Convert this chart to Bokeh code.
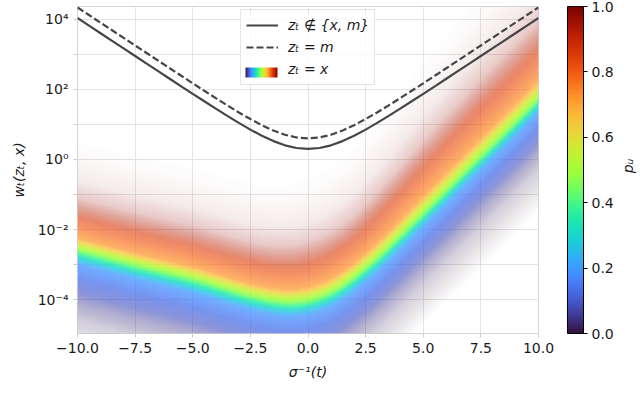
import numpy as np
from bokeh.plotting import figure
from bokeh.layouts import row
from bokeh.models import (Range1d, FixedTicker, CustomJSTickFormatter, ColorBar, BoxAnnotation,
                          LinearColorMapper, Legend, LegendItem, Label, PrintfTickFormatter)
from bokeh.palettes import Turbo256
from bokeh.embed import file_html
from bokeh.resources import INLINE

# ---------------- data ----------------
sigma = [-10, -9.5, -9, -8.5, -8, -7.5, -7, -6.5, -6, -5.5, -5, -4.5, -4, -3.5, -3, -2.5,
         -2, -1.5, -1, -0.5, 0, 0.5, 1, 1.5, 2, 2.5, 3, 3.5, 4, 4.5, 5, 5.5, 6, 6.5, 7,
         7.5, 8, 8.5, 9, 9.5, 10]
w_other = [11000, 6680, 4050, 2460, 1490, 905, 549, 334, 203, 123, 75.2, 46.0, 28.3, 17.6,
           11.1, 7.13, 4.76, 3.35, 2.54, 2.13, 2.0, 2.13, 2.54, 3.35, 4.76, 7.13, 11.1, 17.6,
           28.3, 46.0, 75.2, 123, 203, 334, 549, 905, 1490, 2460, 4050, 6680, 11000]
w_mask = [22000, 13400, 8100, 4920, 2980, 1810, 1100, 667, 405, 247, 150, 92.0, 56.6, 35.2,
          22.1, 14.3, 9.52, 6.70, 5.09, 4.26, 4.0, 4.26, 5.09, 6.70, 9.52, 14.3, 22.1, 35.2,
          56.6, 92.0, 150, 247, 405, 667, 1100, 1810, 2980, 4920, 8100, 13400, 22000]

# z_t = x band: log10 of the band centre (p_u ~ 0.45) along sigma^-1(t)
band_sigma = [-10, -7.5, -5, -2.5, -1, 0, 1, 2, 3, 4, 5, 6, 7, 8, 9, 10]
band_center = [-2.6, -3.03, -3.42, -3.92, -4.12, -4.07, -3.85, -3.4, -2.85, -2.2, -1.55,
               -0.9, -0.25, 0.4, 1.05, 1.72]
# widening of the upper (high p_u) side of the band
band_scale_sigma = [-10, -2, 2, 5, 7.5, 10]
band_top_scale = [1.0, 1.05, 1.2, 1.4, 1.5, 1.5]
# profile across the band (decades from centre) -> p_u colour and opacity
band_offset = [-3.2, -2.6, -2.0, -1.5, -1.2, -0.8, -0.4, -0.2, 0.0, 0.22, 0.35, 0.6, 0.95,
               1.2, 1.5, 2.0, 2.6, 3.2]
band_pu = [0.0, 0.0, 0.02, 0.05, 0.09, 0.13, 0.19, 0.30, 0.45, 0.60, 0.72, 0.78, 0.86,
           0.92, 0.96, 0.99, 1.0, 1.0]
band_alpha = [0.0, 0.1, 0.22, 0.42, 0.62, 0.74, 0.76, 0.82, 0.85, 0.82, 0.72, 0.66, 0.6,
              0.42, 0.22, 0.08, 0.03, 0.0]

x_ticks = [-10, -7.5, -5, -2.5, 0, 2.5, 5, 7.5, 10]
y_ticks = [1e-4, 1e-3, 1e-2, 1e-1, 1e0, 1e1, 1e2, 1e3, 1e4]
cbar_ticks = [0.0, 0.2, 0.4, 0.6, 0.8, 1.0]

FONT = "DejaVu Sans"
LY0, LY1 = -4.971, 4.371
FIG_H = 412

# ---------------- figure ----------------
p = figure(frame_width=461, frame_height=327,
           x_range=Range1d(-10, 10), y_range=Range1d(10 ** LY0, 10 ** LY1),
           y_axis_type="log", output_backend="svg", toolbar_location=None,
           min_border_left=77, min_border_right=82, min_border_top=6,
           min_border_bottom=FIG_H - 6 - 327)
p.outline_line_color = "#d4d4d4"
p.background_fill_color = "white"
p.border_fill_color = "white"

for ax in (p.xaxis[0], p.yaxis[0]):
    ax.axis_line_color = None
    ax.major_tick_line_color = "#cccccc"
    ax.major_tick_out = 4
    ax.major_tick_in = 0
    ax.minor_tick_line_color = None
    ax.major_label_text_font = FONT
    ax.major_label_text_font_size = "14px"
    ax.major_label_text_color = "#1a1a1a"
    ax.major_label_standoff = 5
    ax.axis_label_text_font = FONT
    ax.axis_label_text_font_size = "14px"
    ax.axis_label_text_font_style = "italic"
    ax.axis_label_text_color = "#1a1a1a"

p.xaxis.ticker = FixedTicker(ticks=x_ticks)
p.xaxis.formatter = CustomJSTickFormatter(code='return tick.toFixed(1).replace("-", "\\u2212");')
p.xaxis.axis_label = "σ⁻¹(t)"
p.xaxis.axis_label_standoff = 8

p.yaxis.ticker = FixedTicker(ticks=y_ticks)
p.yaxis.formatter = CustomJSTickFormatter(code=r"""
const e = Math.round(Math.log10(tick));
if (e % 2 !== 0) { return ""; }
const m = {"-": "\u207b", "0": "\u2070", "1": "\u00b9", "2": "\u00b2", "3": "\u00b3",
           "4": "\u2074", "5": "\u2075"};
return "10" + String(e).split("").map(c => m[c]).join("");
""")
p.yaxis.axis_label = "wₜ(zₜ, x)"
p.yaxis.axis_label_standoff = 8

p.xgrid.grid_line_color = "#e4e4e4"
p.ygrid.grid_line_color = "#e4e4e4"

# ---------------- z_t = x band as an RGBA raster ----------------
turbo = np.array([[int(c[1:3], 16), int(c[3:5], 16), int(c[5:7], 16)] for c in Turbo256],
                 dtype=float)
nx, ny = 461, 327
xs = -10 + (np.arange(nx) + 0.5) * 20 / nx
ls = LY0 + (np.arange(ny) + 0.5) * (LY1 - LY0) / ny
center = np.interp(xs, band_sigma, band_center)
kern = np.exp(-0.5 * (np.arange(-30, 31) / 10.0) ** 2)
kern /= kern.sum()
center = np.convolve(np.pad(center, 30, mode="reflect", reflect_type="odd"), kern, mode="valid")
topsc = np.interp(xs, band_scale_sigma, band_top_scale)
D = ls[:, None] - center[None, :]
Dn = np.where(D > 0, D / topsc[None, :], D)
P = np.interp(Dn, band_offset, band_pu)
A = np.interp(Dn, band_offset, band_alpha)
idx = np.clip(np.round(P * 255).astype(int), 0, 255)
rgb = turbo[idx]
img = np.empty((ny, nx), dtype=np.uint32)
view = img.view(dtype=np.uint8).reshape((ny, nx, 4))
view[..., 0] = rgb[..., 0]
view[..., 1] = rgb[..., 1]
view[..., 2] = rgb[..., 2]
view[..., 3] = np.round(A * 255).astype(np.uint8)
img_r = p.image_rgba(image=[img], x=-10, y=10 ** LY0, dw=20, dh=10 ** LY1 - 10 ** LY0)

# ---------------- lines ----------------
r_other = p.line(sigma, w_other, line_color="#454545", line_width=2.2)
r_mask = p.line(sigma, w_mask, line_color="#454545", line_width=2.2, line_dash="7 3")
r_band_key = p.line(x=[], y=[], line_alpha=0)

# ---------------- legend ----------------
# translucent white backing (drawn below the legend so the gradient key stays vivid)
legend_box = BoxAnnotation(left=163, right=298, bottom=248, top=320,
                           left_units="screen", right_units="screen",
                           bottom_units="screen", top_units="screen",
                           fill_color="white", fill_alpha=0.8, line_color=None,
                           level="guide")
p.add_layout(legend_box)

legend = Legend(items=[LegendItem(label="zₜ ∉ {x, m}", renderers=[r_other]),
                       LegendItem(label="zₜ = m", renderers=[r_mask]),
                       LegendItem(label="zₜ = x", renderers=[r_band_key])],
                location=(163, 248), margin=0, padding=5, spacing=2,
                glyph_width=32, glyph_height=20, label_height=20, label_standoff=10,
                label_text_font=FONT, label_text_font_size="14px",
                label_text_font_style="italic", label_text_color="#1a1a1a",
                border_line_color="#cccccc", border_line_width=1,
                background_fill_alpha=0)
p.add_layout(legend)

mapper = LinearColorMapper(palette=Turbo256, low=0, high=1)
legend_patch = ColorBar(color_mapper=mapper, orientation="horizontal", location=(168, 256),
                        width=32, height=10, padding=0, ticker=FixedTicker(ticks=[]),
                        major_label_text_font_size="0px", major_tick_line_color=None,
                        bar_line_color=None, background_fill_alpha=0, label_standoff=0)
p.add_layout(legend_patch)

# ---------------- colour bar ----------------
cbar = ColorBar(color_mapper=mapper, location=(490, 0), width=16, height=327, padding=0,
                ticker=FixedTicker(ticks=cbar_ticks), formatter=PrintfTickFormatter(format="%.1f"),
                bar_line_color="black", bar_line_width=1,
                major_tick_out=4, major_tick_in=0, major_tick_line_color="black",
                major_label_text_font=FONT, major_label_text_font_size="14px",
                major_label_text_color="#1a1a1a", label_standoff=4,
                background_fill_alpha=0)
p.add_layout(cbar)

# ---------------- colour-bar label (narrow side panel) ----------------
q = figure(width=20, height=FIG_H, x_range=Range1d(0, 20), y_range=Range1d(0, FIG_H),
           x_axis_type=None, y_axis_type=None, output_backend="svg", toolbar_location=None,
           min_border=0, outline_line_color=None)
q.add_layout(Label(x=7, y=FIG_H - 173 - 28, text="pᵤ", angle=np.pi / 2,
                   text_align="center", text_baseline="middle",
                   text_font=FONT, text_font_size="14px", text_font_style="italic",
                   text_color="#1a1a1a"))

layout = row(p, q, spacing=0)
open("out.html", "w").write(file_html(layout, INLINE))
